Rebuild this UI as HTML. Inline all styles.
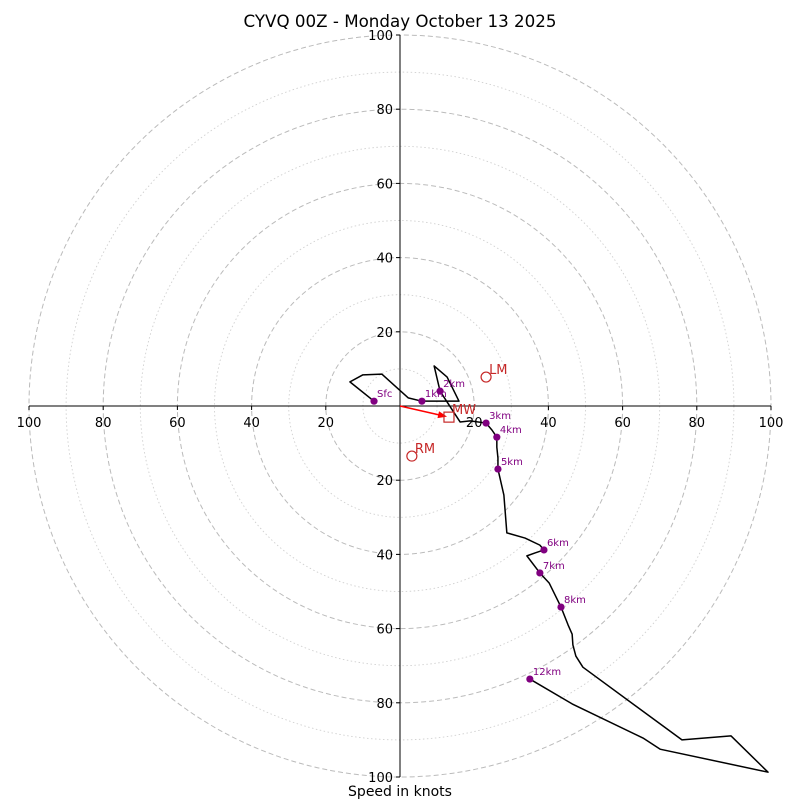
<!DOCTYPE html>
<html><head><meta charset="utf-8"><style>
body{margin:0;background:#fff}
svg{display:block;font-family:"DejaVu Sans","Liberation Sans",sans-serif}
</style></head><body>
<svg id="c" width="800" height="800" viewBox="0 0 800 800">
<text x="400" y="27" text-anchor="middle" font-size="16.7">CYVQ 00Z - Monday October 13 2025</text>
<text x="400" y="796" text-anchor="middle" font-size="14">Speed in knots</text>
</svg>
<script>
const uWind=[-7.0,-13.5,-10.0,-4.9,2.2,5.9,15.9,12.7,9.2,10.8,16.2,18.9,23.2,24.8,26.1,26.1,26.4,26.4,28.0,28.8,33.7,37.7,38.8,36.4,34.2,37.7,40.2,43.4,45.3,46.4,46.6,47.4,49.3,76.0,89.2,99.2,70.1,65.5,46.4,35.0];
const vWind=[1.3,6.5,8.4,8.6,2.2,1.3,1.3,7.8,10.8,4.0,-4.3,-4.0,-4.6,-6.5,-8.4,-11.1,-14.0,-17.0,-24.0,-34.2,-35.6,-37.5,-38.8,-39.6,-40.4,-45.0,-47.7,-54.2,-59.0,-61.5,-64.4,-67.4,-70.4,-90.0,-88.9,-98.7,-92.5,-89.5,-80.3,-73.6];
const levelIdx=[0,5,9,12,14,17,22,25,27,39];
const levelNames=["Sfc","1km","2km","3km","4km","5km","6km","7km","8km","12km"];
const ringValues=[10,20,30,40,50,60,70,80,90,100];
const tickLabels=[20,40,60,80,100];
const stormU=[23.2,3.2,13.2];
const stormV=[7.8,-13.5,-3.0];
const stormNames=["LM","RM","MW"];

const NS="http://www.w3.org/2000/svg";
const svg=document.getElementById('c');
const cx=400,cy=406,k=3.71;
const sx=u=>cx+u*k, sy=v=>cy-v*k;
function mk(t,a){const e=document.createElementNS(NS,t);for(const n in a)e.setAttribute(n,a[n]);svg.appendChild(e);return e;}

ringValues.forEach(r=>{
  const e=mk('circle',{cx:cx,cy:cy,r:r*k,fill:'none',stroke:r%20===0?'#bbb':'#d0d0d0','stroke-width':r%20===0?1:0.9,'stroke-dasharray':r%20===0?'5,3':'1.5,2.5'});
  
  
});
let ax=mk('line',{x1:sx(-100),y1:cy,x2:sx(100),y2:cy,stroke:'#000','stroke-width':1});


let ay=mk('line',{x1:cx,y1:sy(100),x2:cx,y2:sy(-100),stroke:'#000','stroke-width':1});


tickLabels.forEach(t=>{
  [-1,1].forEach(s=>{
    mk('line',{x1:sx(s*t),y1:cy,x2:sx(s*t),y2:cy+4,stroke:'#000'});
    let tx=mk('text',{x:sx(s*t),y:cy+21,'text-anchor':'middle','font-size':13});
    tx.textContent=t;
    
    
    mk('line',{x1:cx-4,y1:sy(s*t),x2:cx,y2:sy(s*t),stroke:'#000'});
    let ty=mk('text',{x:cx-7,y:sy(s*t)+5,'text-anchor':'end','font-size':13});
    ty.textContent=t;
    
    
  });
});
let pts=uWind.map((u,i)=>sx(u)+','+sy(vWind[i])).join(' ');
let line=mk('polyline',{points:pts,fill:'none',stroke:'#000','stroke-width':1.5,'stroke-linejoin':'round'});


levelIdx.forEach((i,j)=>{
  let d=mk('circle',{cx:sx(uWind[i]),cy:sy(vWind[i]),r:3.6,fill:'purple'});
  
  
  let t=mk('text',{x:sx(uWind[i])+3,y:sy(vWind[i])-4,'font-size':10,fill:'purple'});
  t.textContent=levelNames[j];
  
  
});
let mx=sx(stormU[2]),my=sy(stormV[2]);
let ang=Math.atan2(my-cy,mx-cx),ex=mx-4*Math.cos(ang),ey=my-4*Math.sin(ang);
let ar=mk('line',{x1:cx,y1:cy,x2:ex,y2:ey,stroke:'red','stroke-width':1.5});


let hx=ex,hy=ey,L=7,W=3.5;
mk('polygon',{points:`${hx+2*Math.cos(ang)},${hy+2*Math.sin(ang)} ${hx-L*Math.cos(ang)+W*Math.sin(ang)},${hy-L*Math.sin(ang)-W*Math.cos(ang)} ${hx-L*Math.cos(ang)-W*Math.sin(ang)},${hy-L*Math.sin(ang)+W*Math.cos(ang)}`,fill:'red'});
stormNames.forEach((n,i)=>{
  let x=sx(stormU[i]),y=sy(stormV[i]),m;
  if(n==='MW') m=mk('rect',{x:x-5,y:y-5,width:10,height:10,fill:'none',stroke:'#c62828','stroke-width':1.2});
  else m=mk('circle',{cx:x,cy:y,r:5,fill:'none',stroke:'#c62828','stroke-width':1.2});
  
  
  let t=mk('text',{x:x+3,y:y-3,'font-size':13,fill:'#c62828'});
  t.textContent=n;
  
  
});
</script>
</body></html>
